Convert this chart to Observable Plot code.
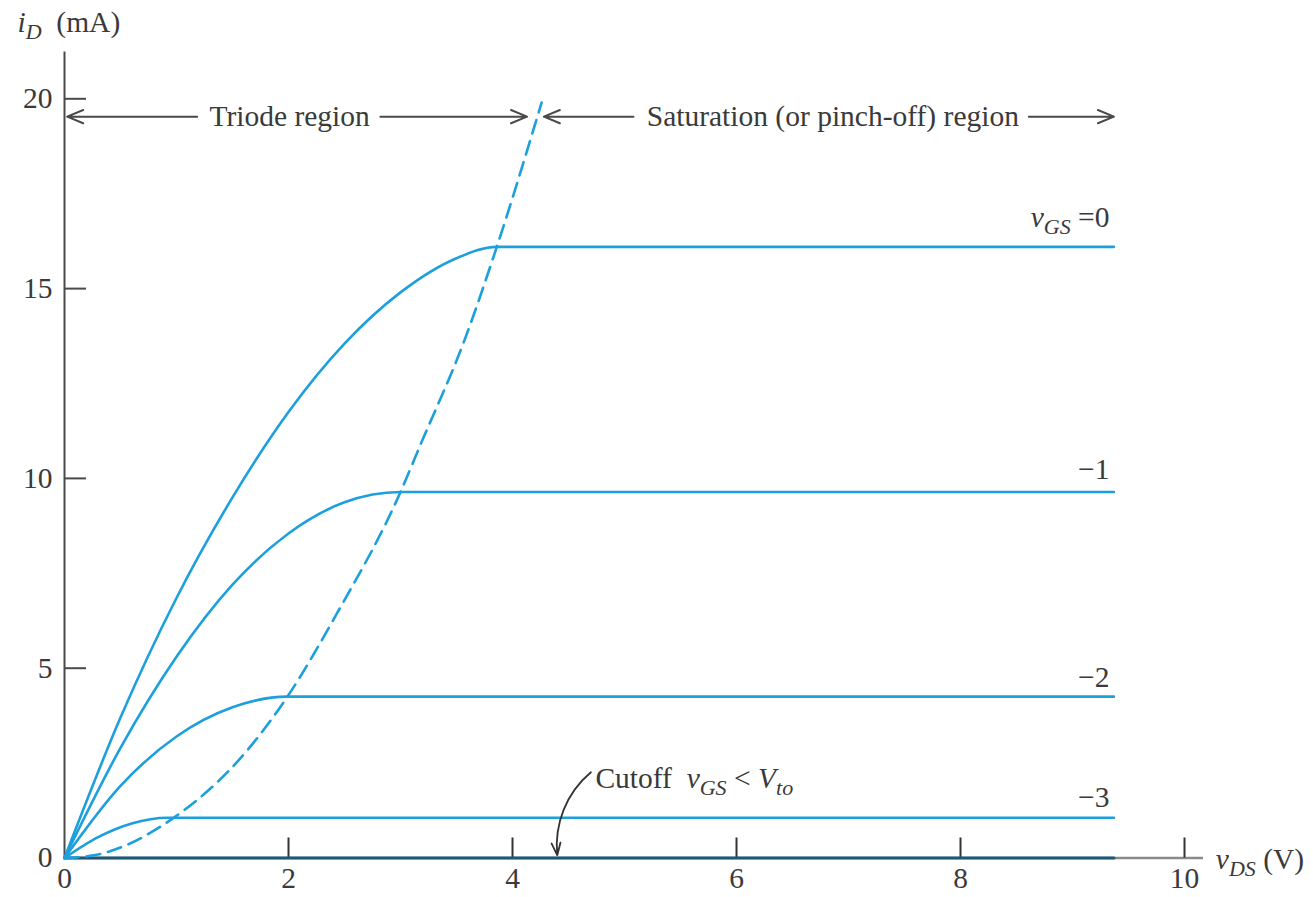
<!DOCTYPE html>
<html>
<head>
<meta charset="utf-8">
<script src="https://cdn.jsdelivr.net/npm/d3@7"></script>
<script src="https://cdn.jsdelivr.net/npm/@observablehq/plot@0.6"></script>
<style>
  html, body { margin: 0; padding: 0; background: #fff; }
  #chart svg text { white-space: pre; }
</style>
</head>
<body>
<div id="chart"></div>
<script>
// ---------- data ----------
// drain characteristics, one array pair per gate voltage (vDS in V, iD in mA)
const vgsLabels = ["*v*_{GS} =0", "\u22121", "\u22122", "\u22123"];
const vds0 = [0, 0.5, 1.0, 1.5, 2.0, 2.5, 3.0, 3.5, 3.86, 9.37];
const id0  = [0, 3.7, 6.85, 9.5, 11.75, 13.55, 14.9, 15.8, 16.1, 16.1];
const vds1 = [0, 0.5, 1.0, 1.5, 2.0, 2.5, 3.0, 9.37];
const id1  = [0, 2.9, 5.3, 7.2, 8.55, 9.37, 9.64, 9.64];
const vds2 = [0, 0.5, 1.0, 1.5, 1.99, 9.37];
const id2  = [0, 1.9, 3.2, 3.97, 4.25, 4.25];
const vds3 = [0, 0.3, 0.6, 0.92, 9.37];
const id3  = [0, 0.55, 0.91, 1.06, 1.06];
// boundary between triode and saturation (dashed)
const boundaryVds = [0, 0.26, 0.98, 1.63, 1.99, 2.43, 3.0, 3.18, 3.57, 3.86, 4.26];
const boundaryId  = [0, 0.07, 1.07, 2.83, 4.25, 6.43, 9.64, 10.9, 13.63, 16.1, 19.9];
// cutoff (vGS < Vto): iD = 0
const cutoffVds = [0, 9.37];
const cutoffId = [0, 0];
// axes
const xTicks = [0, 2, 4, 6, 8, 10];
const yTicks = [0, 5, 10, 15, 20];
const xAxisEnd = 10.17;
const yAxisTop = 21.23;
// curve labels
const curveLabelX = [9.33, 9.33, 9.33, 9.33];
const curveLabelY = [16.87, 10.24, 4.76, 1.59];
// region annotations
const regionNames = ["Triode region", "Saturation (or pinch-off) region"];
const regionX = [2.01, 6.86];
const regionLevel = 19.53;
const arrowFrom = [1.185, 2.82, 5.08, 8.61];
const arrowTo = [0.024, 4.13, 4.28, 9.37];
// cutoff annotation
const cutoffText = "Cutoff  *v*_{GS} < *V*_{to}";
const cutoffTextPos = [4.74, 2.09];
const cutoffArrowFrom = [4.70, 2.26];
const cutoffArrowTo = [4.40, 0.07];
// axis titles
const yTitle = "*i*_{D}  (mA)";
const yTitlePos = [-0.42, 22.0];
const xTitle = "*v*_{DS} (V)";
const xTitlePos = [10.28, -0.04];

// ---------- build tables ----------
const series = [[vds0, id0], [vds1, id1], [vds2, id2], [vds3, id3]];
const curves = series.flatMap(([xs, ys], k) => xs.map((x, i) => ({x, y: ys[i], s: vgsLabels[k]})));
const boundary = boundaryVds.map((x, i) => ({x, y: boundaryId[i]}));
const cutoff = cutoffVds.map((x, i) => ({x, y: cutoffId[i]}));
const curveLabels = vgsLabels.map((t, i) => ({t, x: curveLabelX[i], y: curveLabelY[i]}));
const regions = regionNames.map((t, i) => ({t, x: regionX[i], y: regionLevel}));
const arrows = arrowFrom.map((x1, i) => ({x1, x2: arrowTo[i], y: regionLevel}));

const BLUE = "#1ca0dd";
const INK = "#3a3a3a";
const FONT = "Liberation Serif, Times New Roman, serif";
const FS = 29.5;
const PXX = 1 / 112;   // one pixel in x units
const PXY = 1 / 37.96; // one pixel in y units

const svg = Plot.plot({
  width: 1313,
  height: 897,
  marginLeft: 64,
  marginRight: 129,
  marginTop: 98.3,
  marginBottom: 39.5,
  x: {domain: [0, 10]},
  y: {domain: [0, 20]},
  style: {fontFamily: FONT, fontSize: FS + "px", color: INK, background: "#fff"},
  marks: [
    // axes lines
    Plot.ruleY([0], {x1: 0, x2: xAxisEnd, stroke: "#8a8a8a", strokeWidth: 2.5}),
    Plot.ruleX([0], {y1: 0, y2: yAxisTop, stroke: "#4a4a4a", strokeWidth: 2}),
    // inward ticks
    Plot.ruleY(yTicks.filter(d => d > 0), {x1: 0, x2: 22 * PXX, stroke: "#4a4a4a", strokeWidth: 2}),
    Plot.ruleX(xTicks.filter(d => d > 0), {y1: 0, y2: 20 * PXY, stroke: "#333", strokeWidth: 2}),
    Plot.axisX({ticks: xTicks, tickSize: 0, tickPadding: 9, label: null, fontSize: FS, fill: INK}),
    Plot.axisY({ticks: yTicks, tickSize: 0, tickPadding: 12, label: null, fontSize: FS, fill: INK}),
    // cutoff line (on the axis)
    Plot.line(cutoff, {x: "x", y: "y", stroke: "#1d5876", strokeWidth: 3.2}),
    // characteristic curves
    Plot.line(curves, {x: "x", y: "y", z: "s", stroke: BLUE, strokeWidth: 2.6, curve: "monotone-x"}),
    Plot.line(boundary, {x: "x", y: "y", stroke: BLUE, strokeWidth: 2.6, strokeDasharray: "14,8", curve: "monotone-x"}),
    // curve labels
    Plot.text(curveLabels, {x: "x", y: "y", text: "t", textAnchor: "end", fontSize: FS, fill: INK}),
    // region arrows and labels
    Plot.arrow(arrows, {x1: "x1", x2: "x2", y1: "y", y2: "y", stroke: "#4a4a4a", strokeWidth: 2, headLength: 13, headAngle: 45}),
    Plot.text(regions, {x: "x", y: "y", text: "t", fontSize: FS, fill: INK}),
    // cutoff annotation
    Plot.arrow([0], {x1: cutoffArrowFrom[0], y1: cutoffArrowFrom[1], x2: cutoffArrowTo[0], y2: cutoffArrowTo[1], bend: -28, stroke: "#333", strokeWidth: 1.8, headLength: 11, headAngle: 40}),
    Plot.text([cutoffText], {x: cutoffTextPos[0], y: cutoffTextPos[1], text: d => d, textAnchor: "start", fontSize: FS, fill: INK}),
    // axis titles
    Plot.text([yTitle], {x: yTitlePos[0], y: yTitlePos[1], text: d => d, textAnchor: "start", fontSize: FS, fill: INK}),
    Plot.text([xTitle], {x: xTitlePos[0], y: xTitlePos[1], text: d => d, textAnchor: "start", fontSize: FS, fill: INK})
  ]
});

// ---------- rich text: italics and subscripts ----------
const NS = "http://www.w3.org/2000/svg";
function richify(el, src) {
  const parts = src.match(/\*[^*]+\*|_\{[^}]+\}|[^*_]+/g);
  el.textContent = "";
  let lowered = false;
  for (const p of parts) {
    const t = document.createElementNS(NS, "tspan");
    if (p.startsWith("_{")) {
      t.textContent = p.slice(2, -1);
      t.setAttribute("font-style", "italic");
      t.setAttribute("font-size", "22");
      if (!lowered) t.setAttribute("dy", "7");
      lowered = true;
    } else {
      if (lowered) { t.setAttribute("dy", "-7"); lowered = false; }
      if (p.startsWith("*")) {
        t.textContent = p.slice(1, -1);
        t.setAttribute("font-style", "italic");
      } else {
        t.textContent = p;
      }
    }
    el.appendChild(t);
  }
}
svg.querySelectorAll("text").forEach(el => {
  const s = el.textContent;
  if (s.includes("*") || s.includes("_{")) richify(el, s);
});

document.getElementById("chart").appendChild(svg);
</script>
</body>
</html>
